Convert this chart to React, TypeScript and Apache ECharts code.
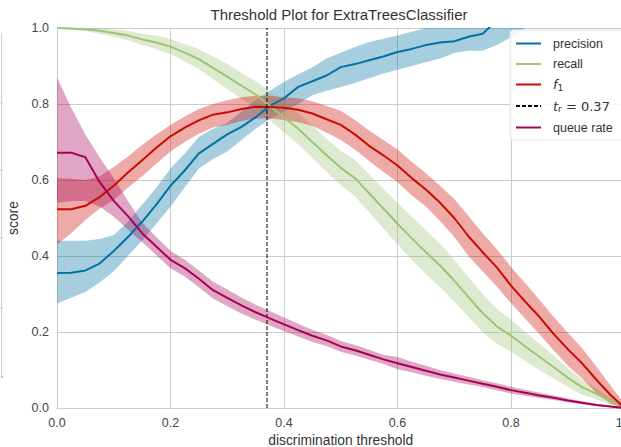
import React, { useEffect, useRef } from "react";
import * as echarts from "echarts";

const THRESHOLDS = [0, 0.025, 0.05, 0.075, 0.1, 0.125, 0.15, 0.175, 0.2, 0.225, 0.25, 0.275, 0.3, 0.325, 0.35, 0.375, 0.4, 0.425, 0.45, 0.475, 0.5, 0.525, 0.55, 0.575, 0.6, 0.625, 0.65, 0.675, 0.7, 0.725, 0.75, 0.775, 0.8, 0.825, 0.85, 0.875, 0.9, 0.925, 0.95, 0.975, 1];

const PRECISION = [0.355, 0.356, 0.362, 0.38, 0.413, 0.45, 0.49, 0.535, 0.585, 0.625, 0.67, 0.695, 0.72, 0.74, 0.765, 0.795, 0.815, 0.845, 0.86, 0.875, 0.897, 0.905, 0.915, 0.925, 0.937, 0.945, 0.955, 0.962, 0.965, 0.977, 0.985, 1.02, null, null, null, null, null, null, null, null, null];
const PRECISION_LO = [0.275, 0.29, 0.305, 0.33, 0.36, 0.4, 0.44, 0.485, 0.53, 0.58, 0.63, 0.655, 0.675, 0.705, 0.735, 0.76, 0.78, 0.8, 0.823, 0.835, 0.845, 0.855, 0.868, 0.88, 0.89, 0.9, 0.91, 0.92, 0.934, 0.94, 0.94, 0.955, 0.975, 1, 1, 1, 1, 1, 1, 1, 1];
const PRECISION_HI = [0.44, 0.44, 0.44, 0.445, 0.455, 0.49, 0.535, 0.58, 0.63, 0.67, 0.713, 0.735, 0.75, 0.78, 0.81, 0.835, 0.858, 0.878, 0.897, 0.92, 0.935, 0.95, 0.963, 0.972, 0.98, 0.99, 1, 1, 1, 1, 1, 1, 1, 1, 1, 1, 1, 1, 1, 1, 1];

const RECALL = [1.0, 0.999, 0.997, 0.993, 0.987, 0.98, 0.97, 0.962, 0.951, 0.935, 0.918, 0.895, 0.872, 0.848, 0.825, 0.795, 0.765, 0.735, 0.7, 0.665, 0.632, 0.605, 0.565, 0.525, 0.485, 0.447, 0.41, 0.375, 0.335, 0.292, 0.25, 0.215, 0.19, 0.162, 0.135, 0.108, 0.08, 0.055, 0.038, 0.018, 0.0];
const RECALL_LO = [0.998, 0.996, 0.992, 0.985, 0.977, 0.968, 0.955, 0.944, 0.931, 0.912, 0.892, 0.865, 0.839, 0.814, 0.79, 0.757, 0.725, 0.694, 0.658, 0.621, 0.587, 0.557, 0.515, 0.473, 0.43, 0.39, 0.352, 0.318, 0.28, 0.24, 0.2, 0.169, 0.148, 0.124, 0.1, 0.078, 0.055, 0.035, 0.023, 0.01, 0];
const RECALL_HI = [1, 1, 1, 1, 0.997, 0.992, 0.985, 0.98, 0.971, 0.958, 0.944, 0.925, 0.905, 0.882, 0.86, 0.833, 0.805, 0.776, 0.742, 0.709, 0.677, 0.653, 0.615, 0.577, 0.54, 0.504, 0.468, 0.432, 0.39, 0.344, 0.3, 0.261, 0.232, 0.2, 0.17, 0.138, 0.105, 0.075, 0.053, 0.026, 0.004];

const F1 = [0.523, 0.523, 0.532, 0.555, 0.585, 0.62, 0.652, 0.685, 0.715, 0.738, 0.757, 0.772, 0.778, 0.787, 0.793, 0.792, 0.79, 0.785, 0.775, 0.76, 0.745, 0.72, 0.69, 0.665, 0.638, 0.605, 0.575, 0.54, 0.5, 0.452, 0.41, 0.37, 0.322, 0.28, 0.24, 0.195, 0.155, 0.118, 0.075, 0.035, 0.0];
const F1_LO = [0.43, 0.46, 0.495, 0.525, 0.547, 0.58, 0.61, 0.643, 0.675, 0.7, 0.722, 0.738, 0.745, 0.755, 0.762, 0.762, 0.758, 0.752, 0.742, 0.725, 0.705, 0.68, 0.65, 0.622, 0.594, 0.56, 0.53, 0.492, 0.45, 0.4, 0.36, 0.32, 0.276, 0.235, 0.195, 0.152, 0.112, 0.078, 0.04, 0.012, 0];
const F1_HI = [0.605, 0.603, 0.6, 0.61, 0.634, 0.662, 0.692, 0.72, 0.745, 0.767, 0.787, 0.8, 0.81, 0.818, 0.822, 0.822, 0.818, 0.815, 0.807, 0.795, 0.782, 0.758, 0.73, 0.705, 0.68, 0.648, 0.618, 0.585, 0.55, 0.505, 0.46, 0.418, 0.371, 0.328, 0.285, 0.24, 0.198, 0.158, 0.11, 0.06, 0.01];

const QUEUE = [0.672, 0.672, 0.66, 0.595, 0.545, 0.505, 0.46, 0.425, 0.39, 0.368, 0.34, 0.31, 0.29, 0.27, 0.252, 0.236, 0.22, 0.205, 0.19, 0.178, 0.162, 0.152, 0.14, 0.128, 0.118, 0.108, 0.098, 0.088, 0.08, 0.072, 0.064, 0.056, 0.047, 0.04, 0.033, 0.027, 0.02, 0.014, 0.008, 0.004, 0.0];
const QUEUE_LO = [0.54, 0.545, 0.545, 0.53, 0.503, 0.47, 0.437, 0.402, 0.368, 0.346, 0.318, 0.288, 0.268, 0.249, 0.232, 0.217, 0.202, 0.188, 0.174, 0.163, 0.148, 0.138, 0.127, 0.116, 0.102, 0.094, 0.085, 0.076, 0.069, 0.062, 0.055, 0.047, 0.038, 0.032, 0.026, 0.021, 0.015, 0.01, 0.005, 0.002, 0];
const QUEUE_HI = [0.87, 0.79, 0.72, 0.66, 0.605, 0.545, 0.488, 0.45, 0.414, 0.39, 0.362, 0.332, 0.312, 0.291, 0.272, 0.255, 0.238, 0.222, 0.206, 0.193, 0.176, 0.166, 0.153, 0.14, 0.134, 0.122, 0.111, 0.1, 0.091, 0.082, 0.073, 0.065, 0.056, 0.048, 0.04, 0.033, 0.025, 0.018, 0.011, 0.006, 0.001];

const THRESHOLD_VALUE = 0.37;
const X_TICKS = [0, 0.2, 0.4, 0.6, 0.8, 1.0];

const C_PREC = "#0272a2";
const C_REC = "#9fc377";
const C_F1 = "#ca0b03";
const C_QUEUE = "#a50258";
const FONT = "'Liberation Sans', Arial, sans-serif";

function band(name: string, lo: number[], hi: number[], color: string) {
  return {
    type: "custom",
    name,
    silent: true,
    data: [[0, 0]],
    encode: { x: 0, y: 1 },
    renderItem: (params: any, api: any) => {
      const pts: number[][] = [];
      for (let i = 0; i < THRESHOLDS.length; i++) pts.push(api.coord([THRESHOLDS[i], hi[i]]));
      for (let i = THRESHOLDS.length - 1; i >= 0; i--) pts.push(api.coord([THRESHOLDS[i], lo[i]]));
      return { type: "polygon", shape: { points: pts }, style: { fill: color, opacity: 0.35 } };
    },
  };
}

function line(name: string, vals: (number | null)[], color: string) {
  return {
    type: "line",
    name,
    data: THRESHOLDS.map((x, i) => [x, vals[i]]),
    showSymbol: false,
    symbol: "none",
    lineStyle: { color, width: 2 },
    itemStyle: { color },
    clip: true,
  };
}

export default function App() {
  const ref = useRef<HTMLDivElement>(null);
  useEffect(() => {
    if (!ref.current) return;
    const chart = echarts.init(ref.current, undefined, { renderer: "svg" });
    const axisLabel = { color: "#444", fontSize: 12.5, fontFamily: FONT };
    chart.setOption({
      animation: false,
      backgroundColor: "#fff",
      title: {
        text: "Threshold Plot for ExtraTreesClassifier",
        left: 339,
        top: 7,
        textAlign: "center",
        padding: 0,
        textStyle: { fontSize: 15, fontWeight: "normal", color: "#333", fontFamily: FONT },
      },
      grid: { left: 57, top: 28, width: 567.5, height: 380, containLabel: false, outerBoundsMode: "none" },
      legend: {
        data: ["precision", "recall", "f1", "tr", "queue rate"],
        orient: "vertical",
        left: 510,
        top: 30,
        itemWidth: 25,
        itemHeight: 14,
        itemGap: 7.5,
        padding: [7, 14, 6, 5],
        backgroundColor: "rgba(255,255,255,0.85)",
        borderColor: "#e2e2e2",
        borderWidth: 1,
        borderRadius: 3,
        itemStyle: { opacity: 0 },
        formatter: (name: string) => {
          if (name === "f1") return "{i|f}{s|1}";
          if (name === "tr") return "{i|t}{s|r}{n| = 0.37}";
          return name;
        },
        textStyle: {
          color: "#333",
          fontSize: 12.5,
          fontFamily: FONT,
          padding: [0, 0, 0, 7],
          rich: {
            i: { fontFamily: "DejaVu Sans", fontStyle: "italic", fontSize: 13, color: "#333" },
            s: { fontFamily: "DejaVu Sans", fontSize: 9, color: "#333", padding: [6, 0, 0, 0] },
            n: { fontFamily: "DejaVu Sans", fontSize: 13, color: "#333" },
          },
        },
      },
      xAxis: {
        type: "value",
        min: 0,
        max: 1,
        interval: 0.2,
        axisLine: { show: true, lineStyle: { color: "#cccccc", width: 1 } },
        axisTick: { show: false },
        splitLine: { show: true, lineStyle: { color: "#cccccc", width: 1 } },
        axisLabel: { ...axisLabel, margin: 8, formatter: (v: number) => (X_TICKS.includes(v) ? v.toFixed(1) : "") },
        name: "discrimination threshold",
        nameLocation: "middle",
        nameGap: 25,
        nameTextStyle: { color: "#333", fontSize: 13.8, fontFamily: FONT },
      },
      yAxis: {
        type: "value",
        min: 0,
        max: 1,
        interval: 0.2,
        axisLine: { show: true, lineStyle: { color: "#cccccc", width: 1 } },
        axisTick: { show: false },
        splitLine: { show: true, lineStyle: { color: "#cccccc", width: 1 } },
        axisLabel: { ...axisLabel, margin: 8, formatter: (v: number) => v.toFixed(1) },
        name: "score",
        nameLocation: "middle",
        nameGap: 32,
        nameTextStyle: { color: "#333", fontSize: 13.8, fontFamily: FONT },
      },
      graphic: [
        { type: "line", shape: { x1: 1.5, y1: 33, x2: 1.5, y2: 377 }, style: { stroke: "#d0d0d0", lineWidth: 1 }, silent: true },
        { type: "line", shape: { x1: 0, y1: 103, x2: 3, y2: 103 }, style: { stroke: "#d0d0d0", lineWidth: 1 }, silent: true },
        { type: "line", shape: { x1: 0, y1: 170, x2: 3, y2: 170 }, style: { stroke: "#d0d0d0", lineWidth: 1 }, silent: true },
        { type: "line", shape: { x1: 0, y1: 238, x2: 3, y2: 238 }, style: { stroke: "#d0d0d0", lineWidth: 1 }, silent: true },
        { type: "line", shape: { x1: 0, y1: 308, x2: 3, y2: 308 }, style: { stroke: "#d0d0d0", lineWidth: 1 }, silent: true },
        { type: "line", shape: { x1: 1, y1: 377, x2: 3, y2: 377 }, style: { stroke: "#888", lineWidth: 1 }, silent: true },
      ],
      series: [
        band("precision band", PRECISION_LO, PRECISION_HI, C_PREC),
        line("precision", PRECISION, C_PREC),
        band("recall band", RECALL_LO, RECALL_HI, C_REC),
        line("recall", RECALL, C_REC),
        band("f1 band", F1_LO, F1_HI, C_F1),
        line("f1", F1, C_F1),
        {
          type: "line",
          name: "tr",
          data: [
            [THRESHOLD_VALUE, 0],
            [THRESHOLD_VALUE, 1],
          ],
          showSymbol: false,
          symbol: "none",
          lineStyle: { color: "#000", width: 1, type: [4, 2] },
          itemStyle: { color: "#000" },
        },
        band("queue band", QUEUE_LO, QUEUE_HI, C_QUEUE),
        line("queue rate", QUEUE, C_QUEUE),
      ],
    });
    return () => chart.dispose();
  }, []);
  return <div ref={ref} style={{ position: "fixed", left: 0, top: 0, width: 621, height: 447 }} />;
}
